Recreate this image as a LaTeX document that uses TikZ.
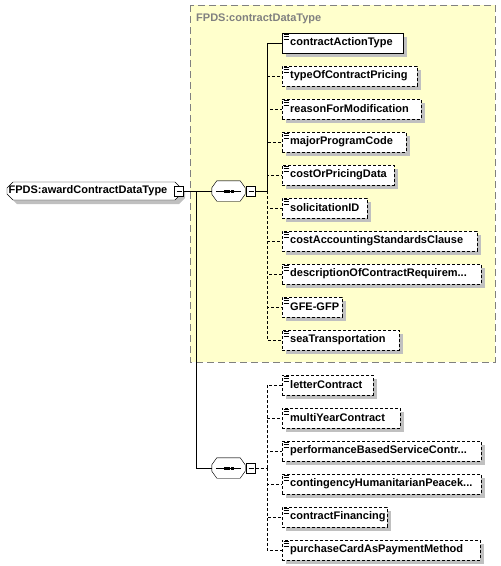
\documentclass[tikz,border=0pt]{standalone}
\usepackage{fontspec}
\setmainfont{Liberation Sans}
\usetikzlibrary{shapes.misc,shadows}
\definecolor{grpyellow}{HTML}{FFFFCC}
\definecolor{shade}{HTML}{C0C0C0}
\newcommand{\elide}{...}
\tikzset{
  boxshadow/.style={drop shadow={shadow xshift=4pt,shadow yshift=-4pt,fill=shade,opacity=1}},
  elbox/.style={draw,fill=white,inner sep=0pt,minimum height=20pt,text width=#1,align=left,anchor=west,boxshadow,
    path picture={\foreach \k in {1.4,3.7,6}
      \draw[solid,line width=.8pt] ([shift={(1.5pt,-\k pt)}]path picture bounding box.north west) -- ++(5pt,0pt);}},
  optl/.style={dash pattern=on 3pt off 2pt},
  seqbox/.style={minimum width=33pt,minimum height=20pt,inner sep=0pt},
  pmbox/.style={draw,fill=white,minimum width=9pt,minimum height=10pt,inner sep=0pt,
    path picture={\draw ([xshift=2pt]path picture bounding box.west) -- ([xshift=-2pt]path picture bounding box.east);}}
}
\begin{document}
\begin{tikzpicture}[x=1pt,y=-1pt,font=\fontsize{11}{13}\selectfont\bfseries]
\useasboundingbox (0,0) rectangle (501,566);
\draw[gray,fill=grpyellow,dash pattern=on 7pt off 4pt] (190,5) rectangle (495,362);
\node[text=gray,anchor=west,inner sep=0pt] (grplbl) at (196,19) {FPDS:contractDataType};
\node[chamfered rectangle,chamfered rectangle sep=3pt,draw,fill=white,minimum width=174pt,minimum height=18pt,inner sep=0pt,boxshadow] (main) at (94,191) {\hspace*{-12pt}FPDS:awardContractDataType};
\node[seqbox] (seq1) at (228.5,191) {};
\node[seqbox] (seq2) at (228.5,468) {};
\foreach \s in {seq1,seq2}{
  \fill[shade,shift={(4pt,-4pt)}] ([xshift=5pt]\s.north west) -- ([xshift=-5pt]\s.north east) -- ([yshift=-7pt]\s.north east)
    -- ([yshift=7pt]\s.south east) -- ([xshift=-5pt]\s.south east) -- ([xshift=5pt]\s.south west) -- ([yshift=7pt]\s.south west)
    -- ([yshift=-7pt]\s.north west) -- cycle;
  \draw[fill=white] ([xshift=5pt]\s.north west) -- ([xshift=-5pt]\s.north east) -- ([yshift=-7pt]\s.north east)
    -- ([yshift=7pt]\s.south east) -- ([xshift=-5pt]\s.south east) -- ([xshift=5pt]\s.south west) -- ([yshift=7pt]\s.south west)
    -- ([yshift=-7pt]\s.north west) -- cycle;
  \draw ([xshift=4pt]\s.west) -- ([xshift=-4pt]\s.east);
  \foreach \d in {-3.5,0,3.5}
    \fill ([xshift=\d pt]\s.center) +(-1.5pt,-1.5pt) rectangle +(1.5pt,1.5pt);
}
\node[pmbox] (mainpm) at (179,191) {};
\node[pmbox] (seq1pm) at (251,191) {};
\node[pmbox] (seq2pm) at (251,468) {};
\coordinate (split) at (196,191);
\coordinate (s1) at (267,191);
\coordinate (s2) at (267,468);
\draw (mainpm.east) -- (seq1.west);
\draw (split) |- (seq2.west);
\draw (seq1pm.east) -- (s1);
\draw[optl] (seq2pm.east) -- (s2);
\node[elbox=121pt] (a1) at (282,43) {\hspace*{8pt}\mbox{contractActionType}};
\draw (s1) |- (a1.west);
\foreach \nm/\w [count=\i from 2] in {typeOfContractPricing/135,reasonForModification/139,majorProgramCode/124,
  costOrPricingData/112,solicitationID/85,costAccountingStandardsClause/195,descriptionOfContractRequirem\elide/199,
  GFE-GFP/60,seaTransportation/117}{
  \node[elbox=\w pt,optl] (a\i) at (282,{43+33*(\i-1)}) {\hspace*{8pt}\mbox{\nm}};
  \draw[optl] (s1) |- (a\i.west);
}
\foreach \nm/\w [count=\i] in {letterContract/91,multiYearContract/118,performanceBasedServiceContr\elide/199,
  contingencyHumanitarianPeacek\elide/199,contractFinancing/105,purchaseCardAsPaymentMethod/198}{
  \node[elbox=\w pt,optl] (b\i) at (282,{385+33*(\i-1)}) {\hspace*{8pt}\mbox{\nm}};
  \draw[optl] (s2) |- (b\i.west);
}
\end{tikzpicture}
\end{document}
